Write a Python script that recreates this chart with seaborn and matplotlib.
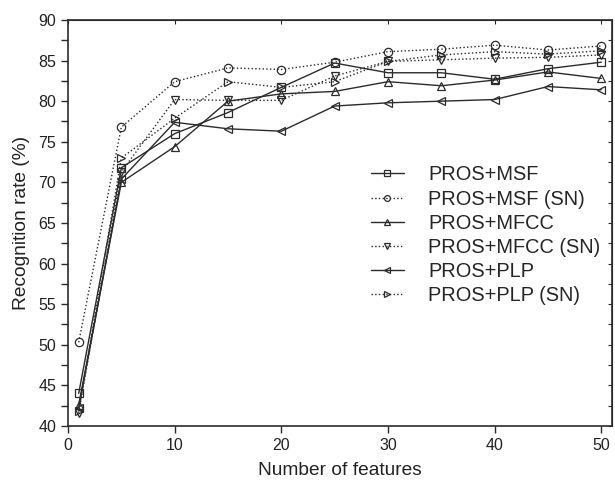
import numpy as np
import pandas as pd
import seaborn as sns
import matplotlib
matplotlib.use('Agg')
import matplotlib.pyplot as plt
from matplotlib.ticker import MultipleLocator

# ---------------- data ----------------
n_features = [1, 5, 10, 15, 20, 25, 30, 35, 40, 45, 50]
pros_msf = [44.0, 71.8, 76.0, 78.6, 81.7, 84.7, 83.5, 83.5, 82.7, 84.0, 84.8]
pros_msf_sn = [50.3, 76.8, 82.4, 84.1, 83.9, 84.8, 86.1, 86.4, 86.9, 86.3, 86.8]
pros_mfcc = [42.6, 70.0, 74.4, 80.0, 80.9, 81.2, 82.4, 81.9, 82.6, 83.6, 82.8]
pros_mfcc_sn = [41.6, 71.3, 80.2, 80.1, 80.1, 83.1, 84.9, 85.1, 85.3, 85.4, 85.7]
pros_plp = [42.2, 70.4, 77.4, 76.6, 76.3, 79.4, 79.8, 80.0, 80.2, 81.8, 81.4]
pros_plp_sn = [41.8, 73.0, 77.9, 82.4, 81.7, 82.4, 84.9, 85.7, 86.1, 85.8, 86.2]

series = [
    ('PROS+MSF', pros_msf, 's', '-'),
    ('PROS+MSF (SN)', pros_msf_sn, 'o', ':'),
    ('PROS+MFCC', pros_mfcc, '^', '-'),
    ('PROS+MFCC (SN)', pros_mfcc_sn, 'v', ':'),
    ('PROS+PLP', pros_plp, '<', '-'),
    ('PROS+PLP (SN)', pros_plp_sn, '>', ':'),
]

sns.set_style('ticks')
plt.rcParams['font.family'] = ['Liberation Sans', 'DejaVu Sans']

fig = plt.figure(figsize=(6.15, 4.84), dpi=100)
ax = fig.add_axes([0.1106, 0.12, 0.8844, 0.8387])

ink = '#2b2b2b'
for name, vals, mk, ls in series:
    sns.lineplot(x=n_features, y=vals, ax=ax, label=name, color=ink,
                 linestyle=ls, linewidth=1.0, marker=mk, markersize=6,
                 markerfacecolor='none', markeredgecolor=ink,
                 markeredgewidth=0.9)

ax.set_xlim(0, 51)
ax.set_ylim(40, 90)
ax.xaxis.set_major_locator(MultipleLocator(10))
ax.yaxis.set_major_locator(MultipleLocator(5))
ax.yaxis.set_minor_locator(MultipleLocator(2.5))

ax.tick_params(axis='both', which='both', direction='out', color=ink,
               labelsize=11.5, labelcolor='#222222', width=1.0)
ax.tick_params(axis='both', which='major', length=5)
ax.tick_params(axis='y', which='minor', length=5)
for sp in ax.spines.values():
    sp.set_linewidth(1.2)
    sp.set_color(ink)

# inward ticks on the mirrored axes
ax2 = ax.secondary_xaxis('top')
ax2.xaxis.set_major_locator(MultipleLocator(10))
ax2.tick_params(direction='in', length=3, labeltop=False, color=ink)
ax2.set_xticklabels([])
ax3 = ax.secondary_yaxis('right')
ax3.yaxis.set_major_locator(MultipleLocator(2.5))
ax3.tick_params(direction='in', length=3, color=ink)
ax3.set_yticklabels([])

ax.set_xlabel('Number of features', fontsize=13.8, color='#222222', labelpad=7)
ax.set_ylabel('Recognition rate (%)', fontsize=13.8, color='#222222', labelpad=6)

ax.legend(loc='upper left', bbox_to_anchor=(0.557, 0.642), frameon=False,
          fontsize=14.4, handlelength=1.65, handletextpad=1.2,
          labelspacing=0.26, borderpad=0, borderaxespad=0, markerscale=0.7)

fig.savefig('out.png', dpi=100)
